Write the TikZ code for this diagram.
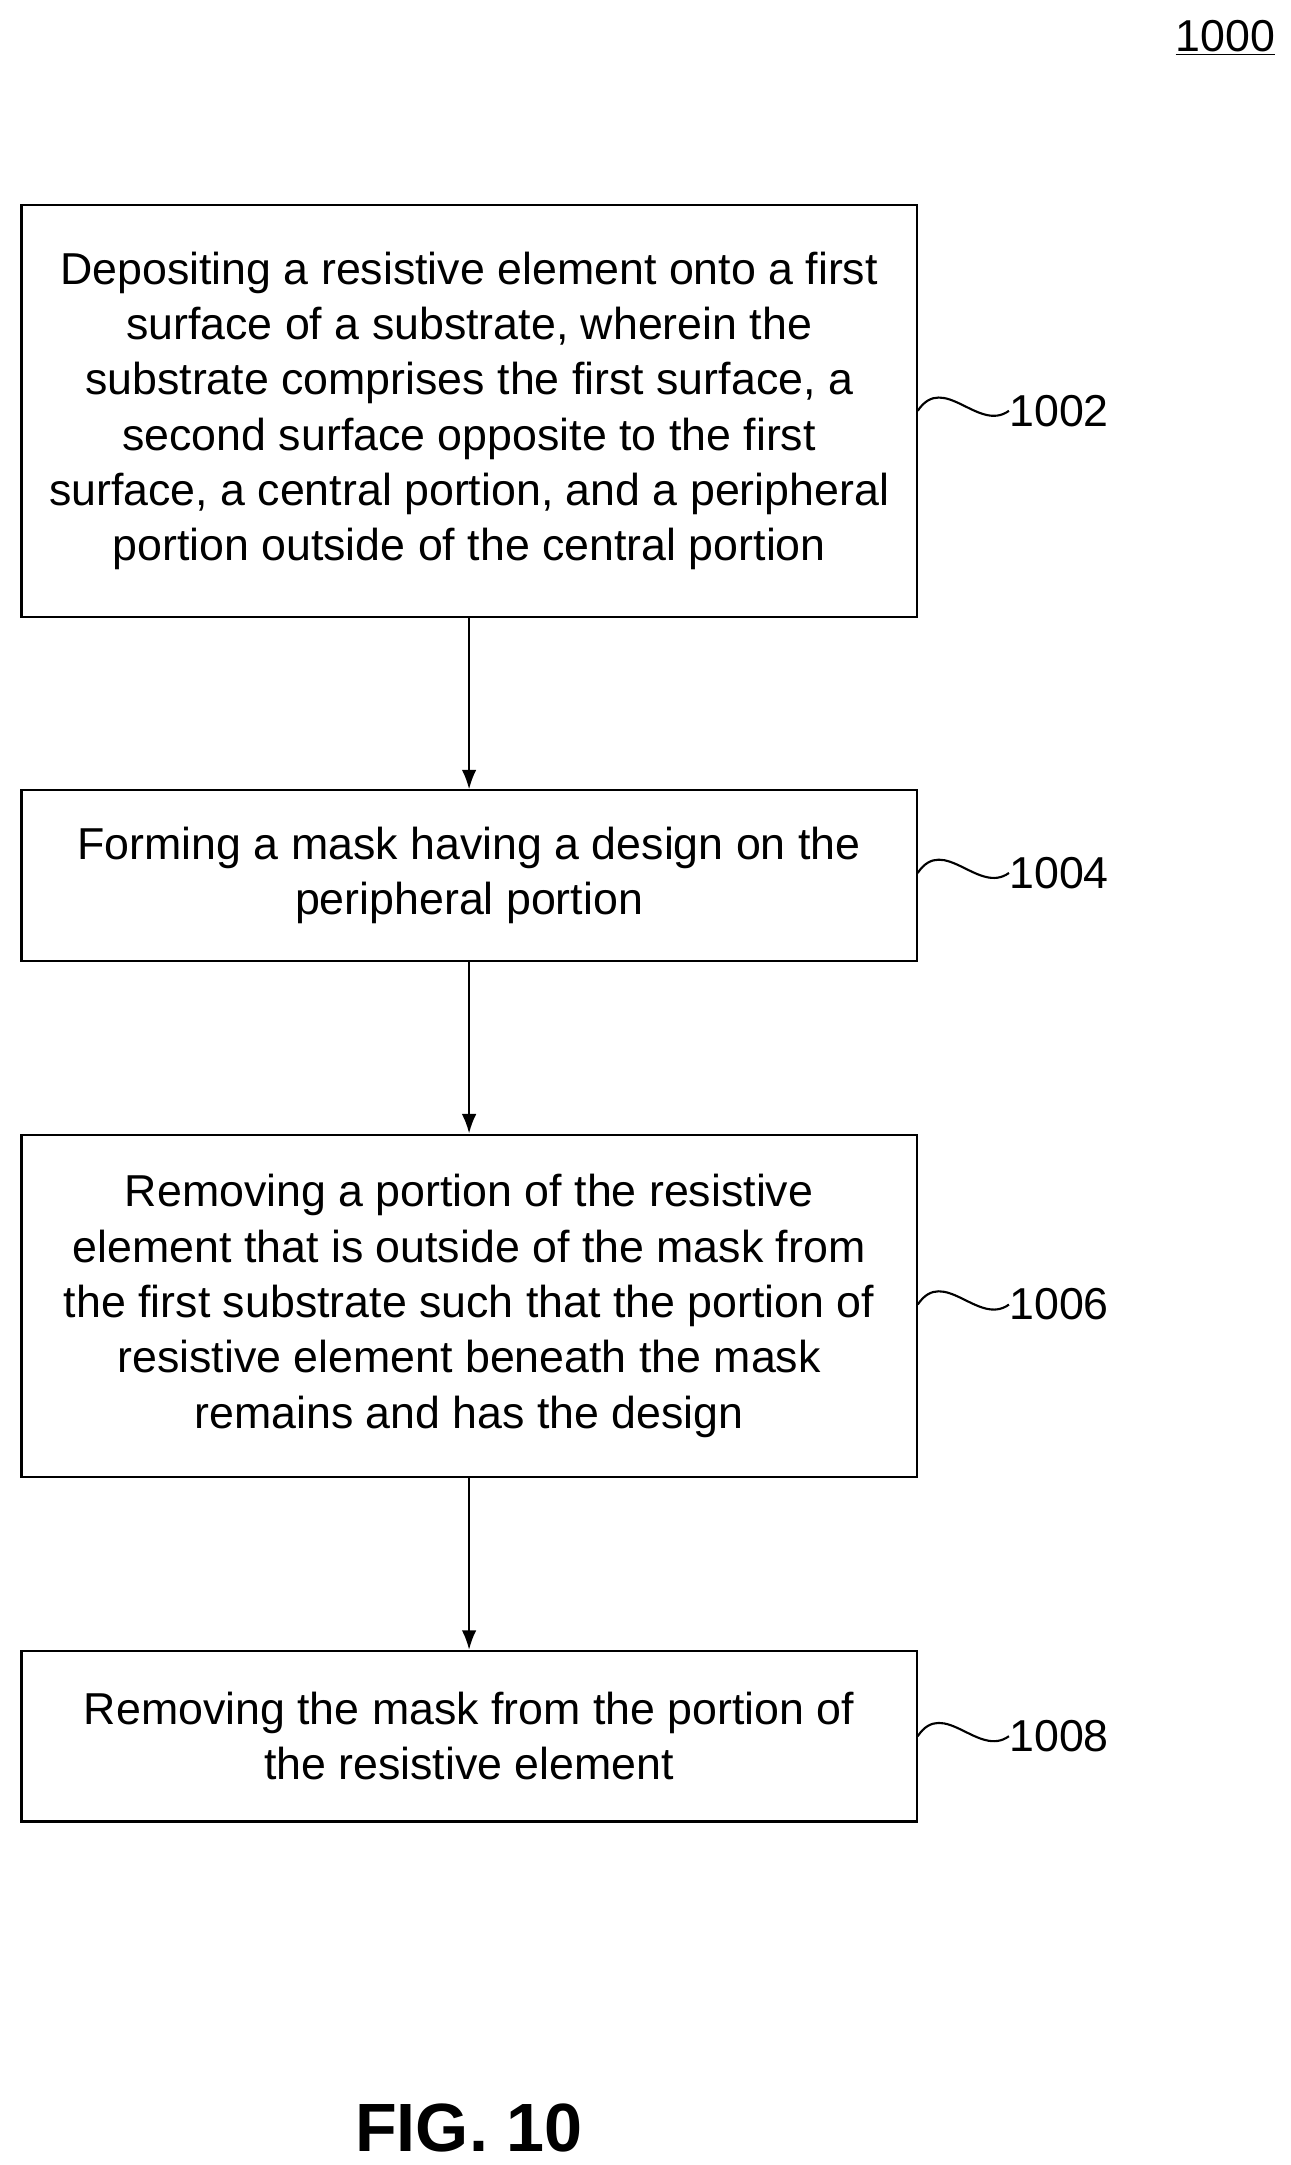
\documentclass[tikz,border=0pt]{standalone}
\usepackage{fontspec}
\setmainfont{Liberation Sans}
\usetikzlibrary{arrows.meta}
\begin{document}
\begin{tikzpicture}[x=0.03cm,y=-0.03cm,
  box/.style={draw,line width=1.3pt,inner sep=0pt},
  txt/.style={align=center,font=\fontsize{27.5}{34}\selectfont},
  lbl/.style={anchor=west,font=\fontsize{27.5}{30}\selectfont,inner sep=0pt},
  arr/.style={-{Latex[length=12pt,width=9pt]},line width=1.3pt},
  wave/.style={line width=1.3pt}]
\useasboundingbox (0,0) rectangle (930,1560);
\node[box,minimum width=645*0.03cm,minimum height=297*0.03cm] (b1) at (338,296) {};
\node[txt] (t1) at (338,296) {Depositing a resistive element onto a first\\surface of a substrate, wherein the\\substrate comprises the first surface, a\\second surface opposite to the first\\surface, a central portion, and a peripheral\\portion outside of the central portion};
\node[box,minimum width=645*0.03cm,minimum height=123*0.03cm] (b2) at (338,631) {};
\node[txt] (t2) at (338,631) {Forming a mask having a design on the\\peripheral portion};
\node[box,minimum width=645*0.03cm,minimum height=247*0.03cm] (b3) at (338,941) {};
\node[txt] (t3) at (338,941) {Removing a portion of the resistive\\element that is outside of the mask from\\the first substrate such that the portion of\\resistive element beneath the mask\\remains and has the design};
\node[box,minimum width=645*0.03cm,minimum height=123*0.03cm] (b4) at (338,1251) {};
\node[txt] (t4) at (338,1251) {Removing the mask from the portion of\\the resistive element};
\draw[arr] (b1.south) -- (b2.north);
\draw[arr] (b2.south) -- (b3.north);
\draw[arr] (b3.south) -- (b4.north);
\foreach \n/\y/\t in {1/296/1002,2/629/1004,3/940/1006,4/1251/1008}{
  \coordinate (w\n) at (727,\y);
  \draw[wave] (b\n.east |- w\n) .. controls (680,\y-28) and (705,\y+16) .. (w\n);
  \node[lbl] (l\n) at (w\n) {\t};
}
\node[font=\fontsize{27.5}{30}\selectfont,inner sep=1pt] (n1000) at (883,27) {\underline{1000}};
\node[font=\bfseries\fontsize{42}{46}\selectfont] (fig) at (338,1533) {FIG. 10};
\end{tikzpicture}
\end{document}
